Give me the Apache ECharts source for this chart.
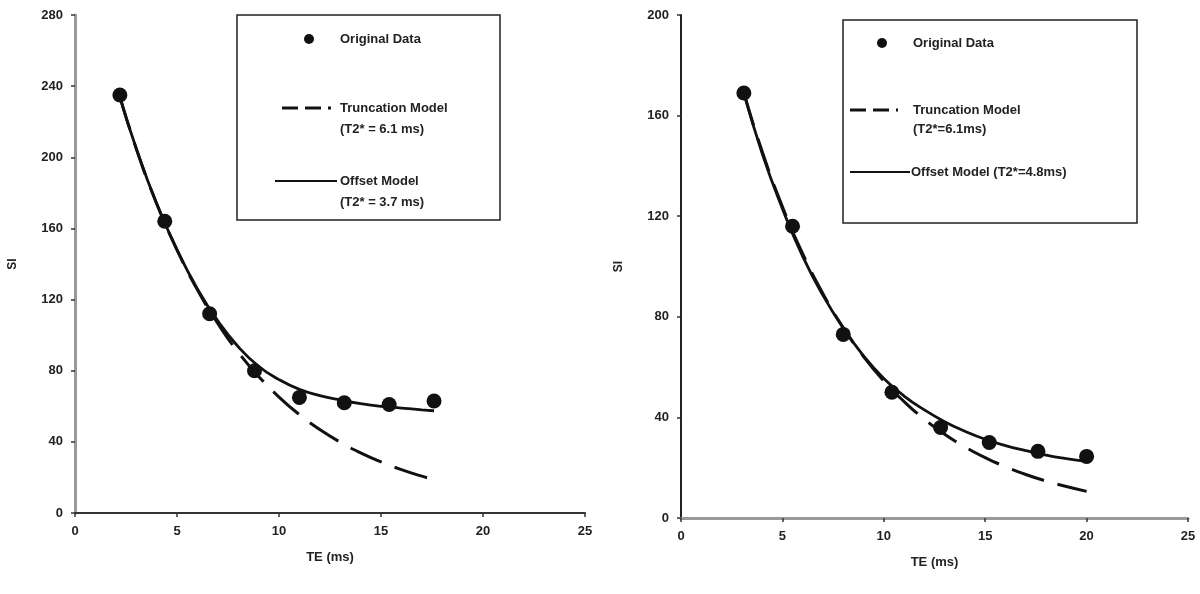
<!DOCTYPE html>
<html><head><meta charset="utf-8">
<script src="https://cdn.jsdelivr.net/npm/echarts@6/dist/echarts.min.js"></script>
<style>html,body{margin:0;padding:0;background:#fff}#c{width:1200px;height:594px}</style>
</head><body><div id="c"></div>
<script>
// Left panel
const leftTE = [2.2, 4.4, 6.6, 8.8, 11.0, 13.2, 15.4, 17.6];
const leftSI = [235, 164, 112, 80, 65, 62, 61, 63];
const leftModelTE = [2.2, 3, 4, 5, 6, 7, 8, 9, 10, 11, 12, 13, 14, 15, 16, 17, 17.6];
const leftTrunc = [234, 205, 174, 148, 125.5, 106.6, 90.4, 76.8, 65.2, 55.3, 46.9, 39.8, 33.8, 28.7, 24.4, 20.7, 18.7];
const leftOffset = [234, 205, 174, 148, 126, 108, 93.5, 82.5, 75, 69.5, 66, 63.5, 61.5, 60, 59, 58, 57.5];
// Right panel
const rightTE = [3.1, 5.5, 8.0, 10.4, 12.8, 15.2, 17.6, 20.0];
const rightSI = [169, 116, 73, 50, 36, 30, 26.5, 24.5];
const rightModelTE = [3.1, 4, 5, 6, 7, 8, 9, 10, 11, 12, 13, 14, 15, 16, 17, 18, 19, 20];
const rightTrunc = [169, 145.8, 123.8, 105.1, 89.2, 75.7, 64.2, 54.5, 46.3, 39.3, 33.3, 28.3, 24.0, 20.4, 17.3, 14.7, 12.5, 10.6];
const rightOffset = [169, 145, 123, 104, 88.5, 75.5, 64.5, 55.5, 48.5, 43, 38.3, 34.5, 31.3, 28.8, 26.8, 25, 23.6, 22.5];
// Axis ticks
const xTicks = {min: 0, max: 25, interval: 5};
const leftYTicks = {min: 0, max: 280, interval: 40};
const rightYTicks = {min: 0, max: 200, interval: 40};

const FONT = "'Liberation Sans',Arial,sans-serif";
const pair = (xs, ys) => xs.map((x, i) => [x, ys[i]]);

function xAxis(gi, lineColor, lineWidth) {
  return {
    type: 'value', gridIndex: gi, min: xTicks.min, max: xTicks.max, interval: xTicks.interval,
    name: 'TE (ms)', nameLocation: 'middle', nameGap: 38,
    nameTextStyle: {fontFamily: FONT, fontWeight: 'bold', fontSize: 13, color: '#222'},
    axisLine: {lineStyle: {color: lineColor, width: lineWidth}},
    axisTick: {show: true, length: 4, lineStyle: {color: '#333', width: 1.5}},
    axisLabel: {fontFamily: FONT, fontWeight: 'bold', fontSize: 13, color: '#222', margin: 12},
    splitLine: {show: false}
  };
}
function yAxis(gi, t, lineColor, lineWidth) {
  return {
    type: 'value', gridIndex: gi, min: t.min, max: t.max, interval: t.interval,
    name: 'SI', nameLocation: 'middle', nameGap: 56, nameRotate: 90,
    nameTextStyle: {fontFamily: FONT, fontWeight: 'bold', fontSize: 12, color: '#222'},
    axisLine: {show: true, lineStyle: {color: lineColor, width: lineWidth}},
    axisTick: {show: true, length: 4, lineStyle: {color: '#333', width: 1.5}},
    axisLabel: {fontFamily: FONT, fontWeight: 'bold', fontSize: 13, color: '#222', margin: 12},
    splitLine: {show: false}
  };
}

const dashStyle = {color: '#111', width: 3, type: [34, 14]};
const solidStyle = {color: '#111', width: 2.8};
const dotStyle = {color: '#111', opacity: 1};

function legendBox(x, y, w, h, items) {
  const els = [{type: 'rect', shape: {x: x, y: y, width: w, height: h},
    style: {fill: '#fff', stroke: '#222', lineWidth: 1.5}, z: 10}];
  items.forEach(it => {
    if (it.kind === 'dot') {
      els.push({type: 'circle', shape: {cx: it.sx, cy: it.sy, r: 5}, style: {fill: '#111'}, z: 11});
    } else {
      els.push({type: 'line', shape: {x1: it.sx, y1: it.sy, x2: it.ex, y2: it.sy},
        style: {stroke: '#111', lineWidth: it.kind === 'dash' ? 3 : 2, lineDash: it.kind === 'dash' ? [16, 7] : null}, z: 11});
    }
    it.lines.forEach((t, k) => {
      els.push({type: 'text', x: it.tx, y: it.sy + k * it.lh,
        style: {text: t, font: "bold 13px " + FONT, fill: '#222', textVerticalAlign: 'middle'}, z: 11});
    });
  });
  return els;
}

const chart = echarts.init(document.getElementById('c'), null, {renderer: 'canvas'});
chart.setOption({
  backgroundColor: '#fff',
  animation: false,
  grid: [
    {left: 75, right: 615, top: 15, bottom: 81},
    {left: 681, right: 12, top: 15, bottom: 76}
  ],
  xAxis: [xAxis(0, '#333', 2), xAxis(1, '#999', 3)],
  yAxis: [yAxis(0, leftYTicks, '#999', 3), yAxis(1, rightYTicks, '#222', 2)],
  series: [
    {name: 'Truncation Model', type: 'line', xAxisIndex: 0, yAxisIndex: 0, data: pair(leftModelTE, leftTrunc), smooth: true, showSymbol: false, lineStyle: dashStyle, z: 3},
    {name: 'Offset Model', type: 'line', xAxisIndex: 0, yAxisIndex: 0, data: pair(leftModelTE, leftOffset), smooth: true, showSymbol: false, lineStyle: solidStyle, z: 3},
    {name: 'Original Data', type: 'scatter', xAxisIndex: 0, yAxisIndex: 0, data: pair(leftTE, leftSI), symbolSize: 15, itemStyle: dotStyle, z: 4},
    {name: 'Truncation Model R', type: 'line', xAxisIndex: 1, yAxisIndex: 1, data: pair(rightModelTE, rightTrunc), smooth: true, showSymbol: false, lineStyle: dashStyle, z: 3},
    {name: 'Offset Model R', type: 'line', xAxisIndex: 1, yAxisIndex: 1, data: pair(rightModelTE, rightOffset), smooth: true, showSymbol: false, lineStyle: solidStyle, z: 3},
    {name: 'Original Data R', type: 'scatter', xAxisIndex: 1, yAxisIndex: 1, data: pair(rightTE, rightSI), symbolSize: 15, itemStyle: dotStyle, z: 4}
  ],
  graphic: [
    ...legendBox(237, 15, 263, 205, [
      {kind: 'dot', sx: 309, sy: 39, tx: 340, lh: 20, lines: ['Original Data']},
      {kind: 'dash', sx: 282, ex: 331, sy: 108, tx: 340, lh: 21, lines: ['Truncation Model', '(T2* = 6.1 ms)']},
      {kind: 'solid', sx: 275, ex: 337, sy: 181, tx: 340, lh: 21, lines: ['Offset Model', '(T2* = 3.7 ms)']}
    ]),
    ...legendBox(843, 20, 294, 203, [
      {kind: 'dot', sx: 882, sy: 43, tx: 913, lh: 20, lines: ['Original Data']},
      {kind: 'dash', sx: 850, ex: 898, sy: 110, tx: 913, lh: 19, lines: ['Truncation Model', '(T2*=6.1ms)']},
      {kind: 'solid', sx: 850, ex: 910, sy: 172, tx: 911, lh: 19, lines: ['Offset Model (T2*=4.8ms)']}
    ])
  ]
});
</script></body></html>
